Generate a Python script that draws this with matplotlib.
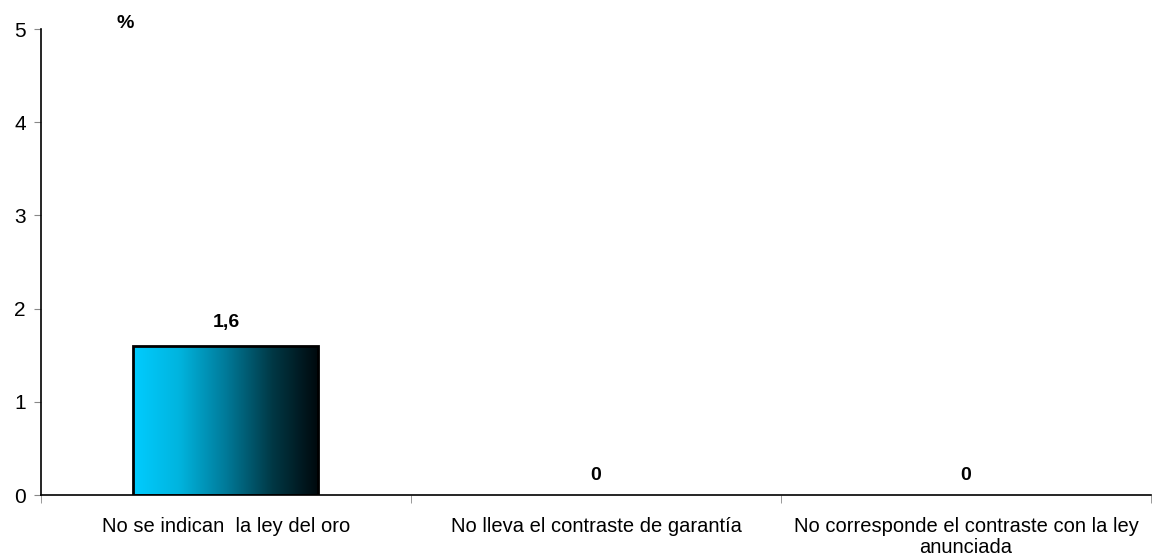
import numpy as np
import matplotlib as mpl
mpl.use('Agg')
import matplotlib.pyplot as plt
from matplotlib.colors import LinearSegmentedColormap

plt.rcParams['font.family'] = ['Liberation Sans', 'DejaVu Sans']

categories = ['No se indican  la ley del oro',
              'No lleva el contraste de garantía',
              'No corresponde el contraste con la ley\nanunciada']
values = [1.6, 0, 0]
value_labels = ['1,6', '0', '0']

fig = plt.figure(figsize=(11.57, 5.55), dpi=100)
ax = fig.add_axes([0.0354, 0.108, 0.9594, 0.8397])

x = np.arange(len(categories))
bars = ax.bar(x, values, width=0.5, facecolor='none', edgecolor='black',
              linewidth=2, zorder=3)

# horizontal gradient fill, clipped to each bar
grad = LinearSegmentedColormap.from_list(
    'cyan_dark', ['#00ccff', '#00b4de', '#007a99', '#003845', '#00080c'])
g = np.linspace(0, 1, 256).reshape(1, -1)
for b in bars:
    if b.get_height() <= 0:
        b.set_linewidth(0)
        continue
    x0, w, h = b.get_x(), b.get_width(), b.get_height()
    im = ax.imshow(g, cmap=grad, aspect='auto', extent=[x0, x0 + w, 0, h],
                   zorder=2, interpolation='bicubic')
    im.set_clip_path(b)

for xi, v, lab in zip(x, values, value_labels):
    off = 11 if v > 0 else 8
    ax.annotate(lab, (xi, v), xytext=(0, off), textcoords='offset points',
                ha='center', va='bottom', fontsize=14, fontweight='bold')

ax.set_xlim(-0.5, len(categories) - 0.5)
ax.set_ylim(0, 5)
ax.set_yticks(range(0, 6))
ax.tick_params(axis='y', labelsize=15, length=5, color='#888888', pad=6)

ax.set_xticks(x)
ax.set_xticklabels(categories, fontsize=14.5, linespacing=1.1)
ax.tick_params(axis='x', length=0, pad=16)
ax.set_xticks(np.arange(-0.5, len(categories)), minor=True)
ax.tick_params(axis='x', which='minor', length=6, color='#888888')

for s in ['top', 'right']:
    ax.spines[s].set_visible(False)
ax.spines['left'].set_linewidth(1.2)
ax.spines['bottom'].set_linewidth(1.2)

fig.text(0.108, 0.958, '%', fontsize=14, fontweight='bold', ha='center',
         va='center')

fig.savefig('out.png', dpi=100)
